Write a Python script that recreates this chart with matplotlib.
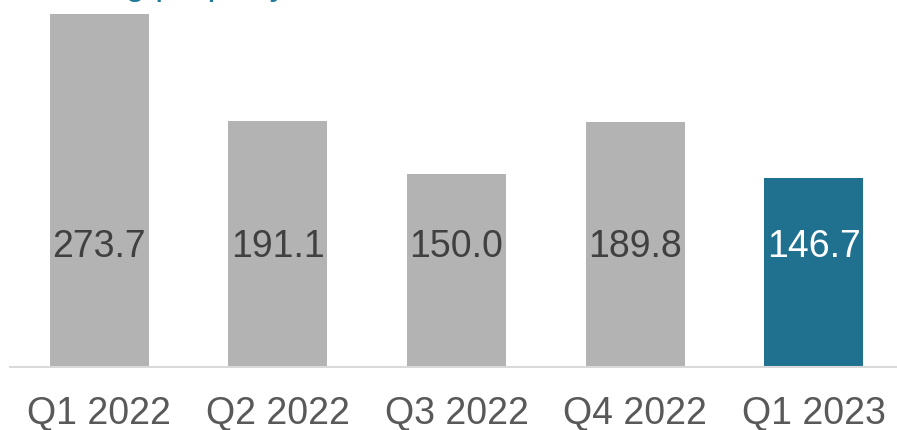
import matplotlib
matplotlib.use("Agg")
import matplotlib.pyplot as plt

plt.rcParams['font.family'] = ['Liberation Sans', 'DejaVu Sans']

# Quarterly values
quarters = ["Q1 2022", "Q2 2022", "Q3 2022", "Q4 2022", "Q1 2023"]
values = [273.7, 191.1, 150.0, 189.8, 146.7]
bar_colors = ["#b3b3b3", "#b3b3b3", "#b3b3b3", "#b3b3b3", "#20718f"]
label_colors = ["#404040", "#404040", "#404040", "#404040", "#ffffff"]

fig = plt.figure(figsize=(8.97, 4.31), dpi=100)
ax = fig.add_axes([10 / 897, 63 / 431, 893 / 897, 368 / 431])

x = range(len(quarters))
ax.bar(x, values, width=0.555, color=bar_colors, zorder=2)
ax.set_xlim(-0.5, 4.5)
ax.set_ylim(0, 285.3)

for i, v in enumerate(values):
    ax.text(i, 94, f"{v:.1f}", ha="center", va="center",
            fontsize=27, color=label_colors[i], zorder=3)

ax.set_xticks(list(x))
ax.set_xticklabels(quarters, fontsize=27, color="#595959")
ax.tick_params(axis="x", length=0, pad=20)
ax.set_yticks([])
for side in ["top", "right", "left"]:
    ax.spines[side].set_visible(False)
ax.spines["bottom"].set_color("#d9d9d9")
ax.spines["bottom"].set_linewidth(1.5)

# Heading sits above the top edge, only its descenders show
fig.text(17 / 897, 1.0 + 6 / 431, "Lending property", fontsize=26,
         color="#1f7a99", ha="left", va="baseline")

fig.savefig("out.png", dpi=100)
